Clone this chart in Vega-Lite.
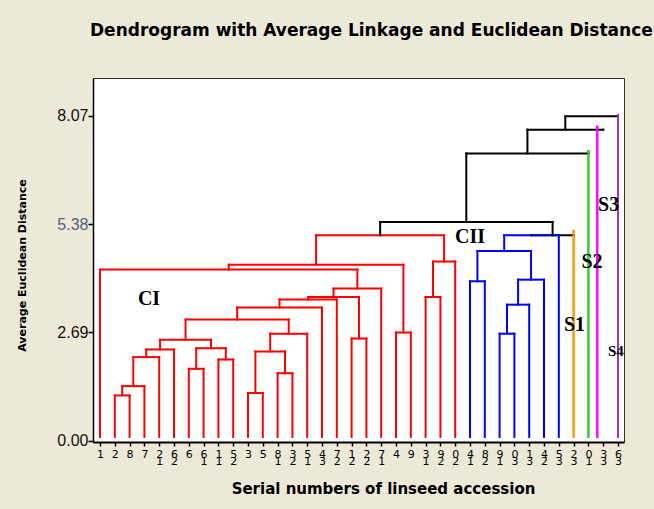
{
  "$schema": "https://vega.github.io/schema/vega-lite/v6.json",
  "width": 531,
  "height": 364,
  "autosize": {"type": "none"},
  "padding": {"left": 93, "top": 78, "right": 30, "bottom": 67},
  "background": "#ECE9D8",
  "title": {
    "text": "Dendrogram with Average Linkage and Euclidean Distance",
    "anchor": "start",
    "frame": "group",
    "font": "DejaVu Sans",
    "fontSize": 17,
    "fontWeight": "bold",
    "color": "#000000",
    "offset": 25,
    "baseline": "alphabetic",
    "dx": -3
  },
  "config": {
    "view": {"fill": "white", "stroke": "#333333", "strokeWidth": 1},
    "axis": {"labelOverlap": false, "labelSeparation": 0, "labelBound": false, "grid": false, "tickColor": "#000000", "tickWidth": 1.5, "domainColor": "#000000", "labelFlush": false, "titleColor": "#000000"},
    "axisX": {
      "labelFont": "DejaVu Sans", "labelFontSize": 11, "labelColor": "#000000",
      "labelLineHeight": 7, "labelPadding": 2, "labelBaseline": "top",
      "tickSize": 4, "domainWidth": 2,
      "titleFont": "DejaVu Sans", "titleFontSize": 15, "titleFontWeight": "bold",
      "titleX": 290, "titleY": 51, "titleBaseline": "alphabetic", "titleAlign": "center"
    },
    "axisY": {
      "labelFont": "Liberation Sans", "labelFontSize": 16, "labelPadding": 0,
      "tickSize": 5, "domainWidth": 1.5,
      "titleFont": "DejaVu Sans", "titleFontSize": 11, "titleFontWeight": "bold",
      "titleX": -71, "titleY": 187, "titleAngle": 270, "titleAlign": "center", "titleBaseline": "middle"
    }
  },
  "datasets": {
    "nodes": [
      {"xl": 29.16, "xr": 32, "h": 5.10, "hl": 5.10, "hr": 5.10, "g": "link"},
      {"xl": 18.93, "xr": 30.58, "h": 5.43, "hl": 5.10, "hr": 5.10, "g": "link"},
      {"xl": 24.75, "xr": 33, "h": 7.13, "hl": 5.43, "hr": 7.13, "g": "link"},
      {"xl": 28.88, "xr": 34, "h": 7.72, "hl": 7.13, "hr": 7.72, "g": "link"},
      {"xl": 31.44, "xr": 35, "h": 8.05, "hl": 7.72, "hr": 8.05, "g": "link"},
      {"xl": 32, "xr": 32, "h": 5.21, "hl": 0.1, "hr": 0.1, "g": "S1"},
      {"xl": 33, "xr": 33, "h": 7.19, "hl": 0.1, "hr": 0.1, "g": "S2"},
      {"xl": 33.6, "xr": 33.6, "h": 7.79, "hl": 0.1, "hr": 0.1, "g": "S3"},
      {"xl": 35, "xr": 35, "h": 8.08, "hl": 0.1, "hr": 0.1, "g": "S4"},
      {"xl": 1, "xr": 2, "h": 1.13, "hl": 0.1, "hr": 0.1, "g": "CI"},
      {"xl": 1.5, "xr": 3, "h": 1.36, "hl": 1.13, "hr": 0.1, "g": "CI"},
      {"xl": 2.25, "xr": 4, "h": 2.08, "hl": 1.36, "hr": 0.1, "g": "CI"},
      {"xl": 3.125, "xr": 5, "h": 2.27, "hl": 2.08, "hr": 0.1, "g": "CI"},
      {"xl": 6, "xr": 7, "h": 1.79, "hl": 0.1, "hr": 0.1, "g": "CI"},
      {"xl": 8, "xr": 9, "h": 2.02, "hl": 0.1, "hr": 0.1, "g": "CI"},
      {"xl": 6.5, "xr": 8.5, "h": 2.30, "hl": 1.79, "hr": 2.02, "g": "CI"},
      {"xl": 4.06, "xr": 7.5, "h": 2.51, "hl": 2.27, "hr": 2.30, "g": "CI"},
      {"xl": 10, "xr": 11, "h": 1.19, "hl": 0.1, "hr": 0.1, "g": "CI"},
      {"xl": 12, "xr": 13, "h": 1.68, "hl": 0.1, "hr": 0.1, "g": "CI"},
      {"xl": 10.5, "xr": 12.5, "h": 2.22, "hl": 1.19, "hr": 1.68, "g": "CI"},
      {"xl": 11.5, "xr": 14, "h": 2.66, "hl": 2.22, "hr": 0.1, "g": "CI"},
      {"xl": 5.78, "xr": 12.75, "h": 3.01, "hl": 2.51, "hr": 2.66, "g": "CI"},
      {"xl": 9.27, "xr": 15, "h": 3.31, "hl": 3.01, "hr": 0.1, "g": "CI"},
      {"xl": 12.13, "xr": 16, "h": 3.51, "hl": 3.31, "hr": 0.1, "g": "CI"},
      {"xl": 17, "xr": 18, "h": 2.54, "hl": 0.1, "hr": 0.1, "g": "CI"},
      {"xl": 14.07, "xr": 17.5, "h": 3.57, "hl": 3.51, "hr": 2.54, "g": "CI"},
      {"xl": 15.78, "xr": 19, "h": 3.78, "hl": 3.57, "hr": 0.1, "g": "CI"},
      {"xl": 0, "xr": 17.39, "h": 4.25, "hl": 0.1, "hr": 3.78, "g": "CI"},
      {"xl": 20, "xr": 21, "h": 2.69, "hl": 0.1, "hr": 0.1, "g": "CI"},
      {"xl": 8.7, "xr": 20.5, "h": 4.37, "hl": 4.25, "hr": 2.69, "g": "CI"},
      {"xl": 22, "xr": 23, "h": 3.57, "hl": 0.1, "hr": 0.1, "g": "CI"},
      {"xl": 22.5, "xr": 24, "h": 4.45, "hl": 3.57, "hr": 0.1, "g": "CI"},
      {"xl": 14.6, "xr": 23.25, "h": 5.10, "hl": 4.37, "hr": 4.45, "g": "CI"},
      {"xl": 25, "xr": 26, "h": 3.96, "hl": 0.1, "hr": 0.1, "g": "CII"},
      {"xl": 27, "xr": 28, "h": 2.66, "hl": 0.1, "hr": 0.1, "g": "CII"},
      {"xl": 27.5, "xr": 29, "h": 3.38, "hl": 2.66, "hr": 0.1, "g": "CII"},
      {"xl": 28.25, "xr": 30, "h": 4.00, "hl": 3.38, "hr": 0.1, "g": "CII"},
      {"xl": 25.5, "xr": 29.125, "h": 4.71, "hl": 3.96, "hr": 4.00, "g": "CII"},
      {"xl": 27.31, "xr": 31, "h": 5.10, "hl": 4.71, "hr": 0.1, "g": "CII"}
    ],
    "notes": [
      {"x": 3.31, "y": 3.51, "t": "CI"},
      {"x": 25.0, "y": 5.06, "t": "CII"},
      {"x": 32.06, "y": 2.88, "t": "S1"},
      {"x": 33.24, "y": 4.43, "t": "S2"},
      {"x": 34.37, "y": 5.84, "t": "S3"},
      {"x": 34.86, "y": 2.24, "t": "S4"}
    ]
  },
  "encoding": {
    "x": {
      "field": "xl", "type": "quantitative", "title": "Serial numbers of linseed accession",
      "scale": {"domain": [-0.473, 35.405], "nice": false, "zero": false},
      "axis": {
        "values": [0,1,2,3,4,5,6,7,8,9,10,11,12,13,14,15,16,17,18,19,20,21,22,23,24,25,26,27,28,29,30,31,32,33,34,35],
        "labelOverlap": false,
        "labelExpr": "[['1','2','8','7','2','6','6','6','1','5','3','5','8','3','5','4','7','1','2','7','4','9','3','9','0','4','8','9','0','1','4','5','2','0','3','6'][datum.value], ['','','','','1','2','','1','1','2','','','1','2','1','3','2','2','2','1','','','1','2','2','1','2','1','3','3','2','3','3','1','3','3'][datum.value]]"
      }
    },
    "y": {
      "field": "h", "type": "quantitative", "title": "Average Euclidean Distance",
      "scale": {"domain": [-0.025, 9.0], "nice": false, "zero": false},
      "axis": {
        "values": [0, 2.69, 5.38, 8.07], "format": ".2f", "labelOverlap": false,
        "labelColor": {"condition": {"test": "datum.value == 5.38", "value": "#56607a"}, "value": "#111111"}
      }
    },
    "color": {
      "field": "g", "type": "nominal", "legend": null,
      "scale": {"domain": ["CI", "CII", "link", "S1", "S2", "S3", "S4"],
                "range": ["#FF0000", "#0000FF", "#000000", "#FF9900", "#33CC33", "#FF00FF", "#9933CC"]}
    }
  },
  "layer": [
    {
      "data": {"name": "nodes"},
      "mark": {"type": "rule", "strokeWidth": 2, "strokeCap": "square"},
      "encoding": {"x2": {"field": "xr"}}
    },
    {
      "data": {"name": "nodes"},
      "mark": {"type": "rule", "strokeWidth": 2, "strokeCap": "square"},
      "encoding": {
        "y": {"field": "hl", "type": "quantitative"},
        "y2": {"field": "h"}
      }
    },
    {
      "data": {"name": "nodes"},
      "mark": {"type": "rule", "strokeWidth": 2, "strokeCap": "square"},
      "encoding": {
        "x": {"field": "xr", "type": "quantitative"},
        "y": {"field": "hr", "type": "quantitative"},
        "y2": {"field": "h"}
      }
    },
    {
      "data": {"name": "notes"},
      "mark": {"type": "text", "font": "Liberation Serif", "fontWeight": "bold", "align": "center", "baseline": "middle", "color": "#000000"},
      "encoding": {
        "x": {"field": "x", "type": "quantitative"},
        "y": {"field": "y", "type": "quantitative"},
        "color": {"value": "#000000"},
        "text": {"field": "t"},
        "size": {"condition": {"test": "datum.t === 'S4'", "value": 15}, "value": 20}
      }
    }
  ]
}
